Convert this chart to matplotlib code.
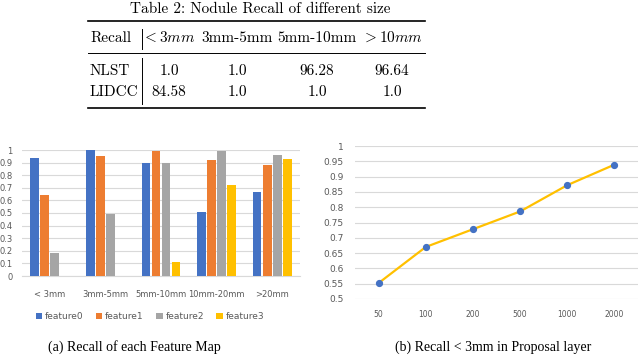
import matplotlib
matplotlib.use("Agg")
import matplotlib.pyplot as plt
import numpy as np

# table data
tab_title = "Table 2: Nodule Recall of different size"
tab_cols = ["Recall", r"$<3mm$", "3mm-5mm", "5mm-10mm", r"$>10mm$"]
tab_rows = ["NLST", "LIDCC"]
tab_vals = [["1.0", "1.0", "96.28", "96.64"],
            ["84.58", "1.0", "1.0", "1.0"]]

# (a) recall of each feature map
sizes = ["< 3mm", "3mm-5mm", "5mm-10mm", "10mm-20mm", ">20mm"]
feat_names = ["feature0", "feature1", "feature2", "feature3"]
feature0 = [0.94, 1.00, 0.90, 0.505, 0.665]
feature1 = [0.64, 0.955, 0.99, 0.92, 0.883]
feature2 = [0.18, 0.49, 0.897, 0.99, 0.957]
feature3 = [0.0, 0.0, 0.115, 0.72, 0.93]
feat_colors = ["#4472C4", "#ED7D31", "#A5A5A5", "#FFC000"]

# (b) recall < 3mm vs number of proposals
proposals = ["50", "100", "200", "500", "1000", "2000"]
recall_b = [0.552, 0.67, 0.728, 0.786, 0.872, 0.939]

W, H = 640, 355
fig = plt.figure(figsize=(W / 100, H / 100), dpi=100)

def fx(px):
    return px / W

def fy(py):
    return 1 - py / H

# ---- table drawn in figure coords ----
plt.rcParams["mathtext.fontset"] = "cm"
tfont = dict(family="cmr10", size=11)
fig.text(fx(260), fy(9), tab_title, ha="center", va="center", **tfont)
col_x = [90, 169, 237, 317, 392]
for i, c in enumerate(tab_cols):
    ha = "left" if i == 0 else "center"
    fig.text(fx(col_x[i]), fy(38), c, ha=ha, va="center", **tfont)
row_y = [71, 92]
for r, name in enumerate(tab_rows):
    fig.text(fx(col_x[0]), fy(row_y[r]), name, ha="left", va="center", **tfont)
    for j, v in enumerate(tab_vals[r]):
        fig.text(fx(col_x[j + 1]), fy(row_y[r]), v, ha="center", va="center", **tfont)
for yy, lw in [(21, 1.2), (53, 0.7), (108, 1.2)]:
    fig.add_artist(plt.Line2D([fx(88), fx(425)], [fy(yy), fy(yy)], color="black", lw=lw))
fig.add_artist(plt.Line2D([fx(142), fx(142)], [fy(29), fy(49)], color="black", lw=0.7))
fig.add_artist(plt.Line2D([fx(142), fx(142)], [fy(58), fy(104)], color="black", lw=0.7))

tick_col = "#595959"
grid_col = "#D9D9D9"

# ---- (a) bar chart ----
ax1 = fig.add_axes([fx(22), fy(276), fx(300) - fx(22), fy(150) - fy(276)])
x = np.arange(len(sizes))
slot = 0.18
bw = 0.155
for k, (vals, col) in enumerate(zip([feature0, feature1, feature2, feature3], feat_colors)):
    ax1.bar(x + (k - 1.5) * slot, vals, width=bw, color=col, label=feat_names[k], zorder=3)
ax1.set_xlim(-0.5, len(sizes) - 0.5)
ax1.set_ylim(0, 1)
ax1.set_yticks(np.arange(0, 1.01, 0.1))
ax1.set_yticklabels(["0", "0.1", "0.2", "0.3", "0.4", "0.5", "0.6", "0.7", "0.8", "0.9", "1"])
ax1.set_xticks(x)
ax1.set_xticklabels(sizes)
ax1.grid(axis="y", color=grid_col, lw=0.8, zorder=0)
for s in ["top", "right", "left"]:
    ax1.spines[s].set_visible(False)
ax1.spines["bottom"].set_color(grid_col)
ax1.tick_params(length=0, labelsize=6, labelcolor=tick_col)
ax1.tick_params(axis="y", pad=7)
ax1.tick_params(axis="x", pad=10)
ax1.legend(loc="upper center", bbox_to_anchor=(0.46, -0.22), ncol=4, frameon=False,
           fontsize=6.5, handlelength=0.7, handleheight=0.7, handletextpad=0.3,
           columnspacing=1.4, labelcolor=tick_col)
fig.text(fx(134), fy(347), "(a) Recall of each Feature Map", ha="center", va="center",
         family="Liberation Serif", size=10)

# ---- (b) line chart ----
ax2 = fig.add_axes([fx(355), fy(299), fx(638) - fx(355), fy(146) - fy(299)])
xb = np.arange(len(proposals))
ax2.plot(xb, recall_b, color="#FFC000", lw=1.6, zorder=3)
ax2.plot(xb, recall_b, "o", color="#4472C4", ms=4.2, zorder=4)
ax2.set_xlim(-0.5, len(proposals) - 0.5)
ax2.set_ylim(0.5, 1)
yt = np.arange(0.5, 1.001, 0.05)
ax2.set_yticks(yt)
ax2.set_yticklabels(["0.5", "0.55", "0.6", "0.65", "0.7", "0.75", "0.8", "0.85", "0.9", "0.95", "1"])
ax2.set_xticks(xb)
ax2.set_xticklabels(proposals)
ax2.grid(axis="y", color=grid_col, lw=0.8, zorder=0)
for s in ["top", "right", "left", "bottom"]:
    ax2.spines[s].set_visible(False)
ax2.tick_params(length=0, labelsize=6.5, labelcolor=tick_col)
ax2.tick_params(axis="x", labelsize=5.5, pad=8)
ax2.tick_params(axis="y", pad=8)
fig.text(fx(493), fy(347), "(b) Recall < 3mm in Proposal layer", ha="center", va="center",
         family="Liberation Serif", size=10)

fig.savefig("out.png", dpi=100)
